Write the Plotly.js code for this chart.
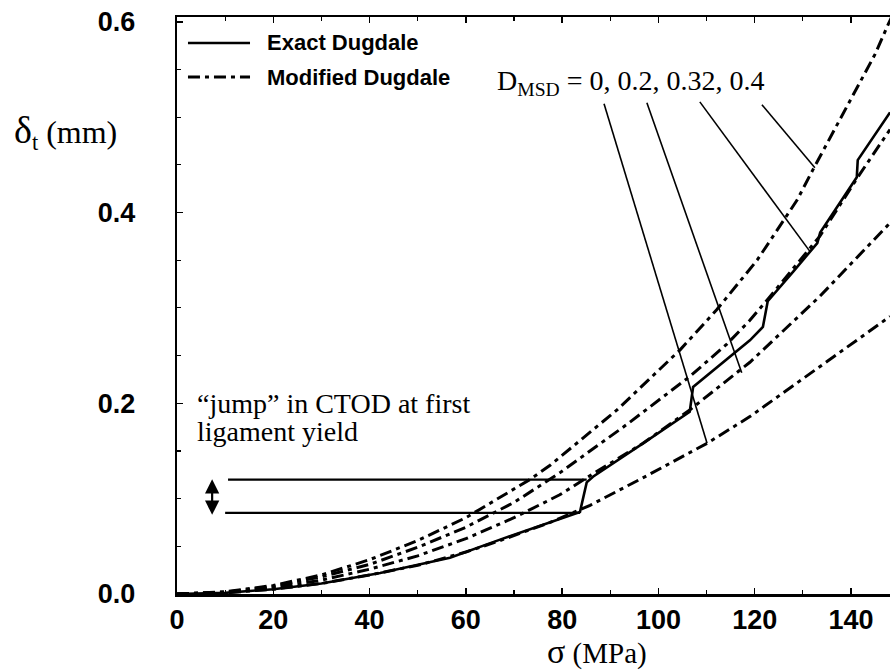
<!DOCTYPE html>
<html>
<head>
<meta charset="utf-8">
<script src="https://cdn.plot.ly/plotly-3.0.1.min.js"></script>
<style>html,body{margin:0;padding:0;background:#fff;}#chart{width:890px;height:671px;}</style>
</head>
<body>
<div id="chart"></div>
<script>
// ---- data ----
// Exact Dugdale (solid) with CTOD jumps at ligament yield
const exactX = [0, 10, 20, 30, 42.2, 56.7, 67.1, 77.5, 83.7, 85.1, 86.4, 96.8, 106.5, 107.2, 119, 121.7, 122.7, 128, 133.0, 133.6, 141.2, 141.4, 148.1];
const exactY = [0, 0.0012, 0.005, 0.011, 0.022, 0.038, 0.057, 0.075, 0.086, 0.117, 0.123, 0.158, 0.191, 0.217, 0.266, 0.280, 0.307, 0.338, 0.368, 0.379, 0.437, 0.455, 0.505];

// Modified Dugdale (dash-dot), D_MSD = 0, 0.2, 0.32, 0.4
const mod0X = [0, 10, 20, 30, 40, 50, 60, 67.1, 77.5, 85.8, 97.6, 110.1, 119, 125.9, 136, 148.1];
const mod0Y = [0, 0.0012, 0.005, 0.011, 0.020, 0.030, 0.044, 0.056, 0.075, 0.093, 0.124, 0.158, 0.186, 0.211, 0.248, 0.291];
const mod1X = [0, 10, 20, 30, 40, 50, 60, 70, 79.5, 86.4, 96.8, 106.5, 119, 133.5, 148.1];
const mod1Y = [0, 0.0016, 0.0065, 0.0145, 0.026, 0.040, 0.058, 0.080, 0.104, 0.126, 0.158, 0.193, 0.243, 0.312, 0.389];
const mod2X = [0, 10, 20, 30, 40, 50, 60, 70, 79.5, 93.5, 106.5, 114.2, 119, 123.2, 133.5, 141.8, 148.1];
const mod2Y = [0, 0.002, 0.008, 0.018, 0.031, 0.049, 0.070, 0.096, 0.127, 0.178, 0.228, 0.262, 0.287, 0.312, 0.375, 0.440, 0.487];
const mod3X = [0, 10, 20, 30, 40, 50, 60, 73.3, 77.5, 91.4, 104.5, 112.1, 120.5, 128.8, 132.1, 141.2, 145, 147.7, 149];
const mod3Y = [0, 0.0023, 0.009, 0.020, 0.036, 0.056, 0.080, 0.120, 0.135, 0.193, 0.256, 0.298, 0.350, 0.413, 0.445, 0.531, 0.566, 0.597, 0.611];

// "jump" guide lines
const jumpLowX = [10.0, 83.7];
const jumpLowY = [0.085, 0.085];
const jumpHighX = [10.6, 85.1];
const jumpHighY = [0.120, 0.120];
const jumpArrowX = 7.3;
const jumpArrowY = [0.083, 0.122];

// leader lines from the D_MSD label to the curves
const leader0X = [88.7, 110.1],  leader0Y = [0.514, 0.158];
const leader1X = [97.6, 117.3],  leader1Y = [0.515, 0.232];
const leader2X = [108.6, 131.5], leader2Y = [0.516, 0.359];
const leader3X = [121.5, 132.5], leader3Y = [0.513, 0.447];

const xTicks = [0, 20, 40, 60, 80, 100, 120, 140];
const yTicks = [0.0, 0.2, 0.4, 0.6];
const legendNames = ['Exact Dugdale', 'Modified Dugdale'];

// ---- traces ----
const DASHDOT = '12px,5px,4px,5px';
const black = '#000';
const traces = [];
traces.push({x: exactX, y: exactY, mode: 'lines', name: legendNames[0], showlegend: false,
  line: {color: black, width: 2.6}, hoverinfo: 'skip'});
const mods = [[mod0X, mod0Y], [mod1X, mod1Y], [mod2X, mod2Y], [mod3X, mod3Y]];
mods.forEach(function (m) {
  traces.push({x: m[0], y: m[1], mode: 'lines', name: legendNames[1], showlegend: false,
    line: {color: black, width: 3, dash: DASHDOT}, hoverinfo: 'skip'});
});
[[jumpLowX, jumpLowY], [jumpHighX, jumpHighY]].forEach(function (g) {
  traces.push({x: g[0], y: g[1], mode: 'lines', showlegend: false,
    line: {color: black, width: 2.2}, hoverinfo: 'skip'});
});
[[leader0X, leader0Y], [leader1X, leader1Y], [leader2X, leader2Y], [leader3X, leader3Y]].forEach(function (g) {
  traces.push({x: g[0], y: g[1], mode: 'lines', showlegend: false,
    line: {color: black, width: 1.6}, hoverinfo: 'skip'});
});

const serif = 'Liberation Serif, Times New Roman, serif';
const sans = 'Liberation Sans, Arial, sans-serif';

// legend drawn as key samples + labels (paper coordinates)
const keyRows = [0.955, 0.896];
const keyShapes = [
  {type: 'line', xref: 'paper', yref: 'paper', x0: 0.0154, x1: 0.1024, y0: keyRows[0], y1: keyRows[0],
    line: {color: black, width: 2.6}},
  {type: 'line', xref: 'paper', yref: 'paper', x0: 0.0154, x1: 0.1024, y0: keyRows[1], y1: keyRows[1],
    line: {color: black, width: 3, dash: DASHDOT}}
];
const keyLabels = legendNames.map(function (n, i) {
  return {xref: 'paper', yref: 'paper', x: 0.1234, y: keyRows[i], xanchor: 'left', yanchor: 'middle',
    showarrow: false, text: n, font: {family: sans, size: 22, color: black, weight: 'bold'}};
});

const layout = {
  width: 890, height: 671,
  margin: {l: 177, r: 0, t: 17, b: 77, pad: 0},
  paper_bgcolor: '#fff', plot_bgcolor: '#fff',
  showlegend: false,
  xaxis: {range: [0, 148.1], tickvals: xTicks, ticktext: xTicks.map(String),
    ticks: 'inside', ticklen: 6, tickwidth: 1.5, tickcolor: black,
    showline: true, linewidth: 2.5, linecolor: black, mirror: 'ticks',
    showgrid: false, zeroline: false, ticklabelstandoff: 0,
    tickfont: {family: sans, size: 27, color: black, weight: 'bold'},
    minor: {dtick: 10, tick0: 0, ticks: 'inside', ticklen: 4, tickcolor: black, tickwidth: 1.2, showgrid: false}},
  yaxis: {range: [0, 0.605], tickvals: yTicks, ticktext: yTicks.map(function (v) { return v.toFixed(1); }),
    ticks: 'inside', ticklen: 6, tickwidth: 1.5, tickcolor: black,
    showline: true, linewidth: 2.2, linecolor: black, mirror: false,
    showgrid: false, zeroline: false, ticklabelstandoff: 34,
    tickfont: {family: sans, size: 27, color: black, weight: 'bold'},
    minor: {dtick: 0.05, tick0: 0, ticks: 'inside', ticklen: 4, tickcolor: black, tickwidth: 1.2, showgrid: false}},
  shapes: keyShapes,
  annotations: keyLabels.concat([
    {xref: 'paper', yref: 'paper', x: -0.232, y: 0.80, xanchor: 'left', yanchor: 'middle', showarrow: false,
      text: '<span style="font-size:38px">δ</span><sub>t</sub> (mm)', font: {family: serif, size: 32, color: black}},
    {xref: 'paper', yref: 'paper', x: 0.516, y: -0.099, xanchor: 'left', yanchor: 'middle', showarrow: false,
      text: '<span style="font-size:34px">σ</span> (MPa)', font: {family: serif, size: 29, color: black}},
    {xref: 'paper', yref: 'paper', x: 0.446, y: 0.887, xanchor: 'left', yanchor: 'middle', showarrow: false,
      text: 'D<sub>MSD</sub> = 0, 0.2, 0.32, 0.4', font: {family: serif, size: 28, color: black}},
    {xref: 'paper', yref: 'paper', x: 0.025, y: 0.331, xanchor: 'left', yanchor: 'middle', showarrow: false,
      text: '“jump” in CTOD at first', font: {family: serif, size: 28, color: black}},
    {xref: 'paper', yref: 'paper', x: 0.025, y: 0.281, xanchor: 'left', yanchor: 'middle', showarrow: false,
      text: 'ligament yield', font: {family: serif, size: 28, color: black}},
    {xref: 'x', yref: 'y', x: jumpArrowX, y: jumpArrowY[0], axref: 'x', ayref: 'y', ax: jumpArrowX, ay: jumpArrowY[1],
      text: '', showarrow: true, arrowside: 'end+start', arrowhead: 2, arrowsize: 1.3, arrowwidth: 2.2, arrowcolor: black,
      standoff: 0, startstandoff: 0}
  ])
};

Plotly.newPlot('chart', traces, layout, {displayModeBar: false, staticPlot: true});
</script>
</body>
</html>
